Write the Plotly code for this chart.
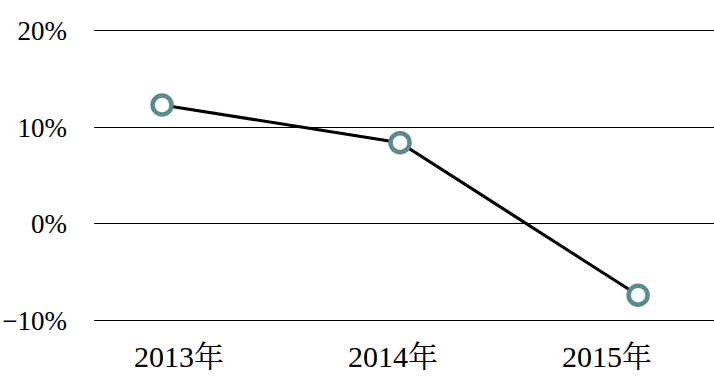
import plotly.graph_objects as go

years = ["2013年", "2014年", "2015年"]
growth = [12.3, 8.4, -7.4]
y_tickvals = [-10, 0, 10, 20]
y_ticktext = ["−10%", "0%", "10%", "20%"]

fig = go.Figure()
# invisible trace to carry the category labels on the bottom axis
fig.add_trace(go.Scatter(x=years, y=[None] * len(years), xaxis="x", yaxis="y",
                         mode="markers", showlegend=False, hoverinfo="skip"))
fig.add_trace(go.Scatter(
    x=years, y=growth, xaxis="x2", yaxis="y", mode="lines+markers",
    line=dict(color="black", width=3),
    marker=dict(symbol="circle", size=19, color="white",
                line=dict(color="#5B8C8A", width=4.5)),
    showlegend=False, cliponaxis=False))

fig.update_layout(
    width=714, height=388,
    margin=dict(l=94, r=0, t=21, b=58, autoexpand=False),
    paper_bgcolor="white", plot_bgcolor="white",
    font=dict(family="Liberation Serif, Noto Serif CJK SC, Noto Sans CJK SC, serif", color="black"),
    xaxis=dict(type="category", range=[-0.397, 2.5], showgrid=False, zeroline=False,
               showline=False, ticks="", tickfont=dict(size=30),
               ticklabelstandoff=6, automargin=False),
    xaxis2=dict(type="category", range=[-0.286, 2.319], overlaying="x", visible=False),
    yaxis=dict(range=[-11, 21], tickvals=y_tickvals, ticktext=y_ticktext,
               showgrid=True, gridcolor="black", gridwidth=1, zeroline=False,
               showline=False, ticks="", tickfont=dict(size=27),
               ticklabelstandoff=26, automargin=False),
)

fig.write_html("out.html", config={"displayModeBar": False},
               post_script="document.body.style.margin='0';document.body.style.overflow='hidden';")
